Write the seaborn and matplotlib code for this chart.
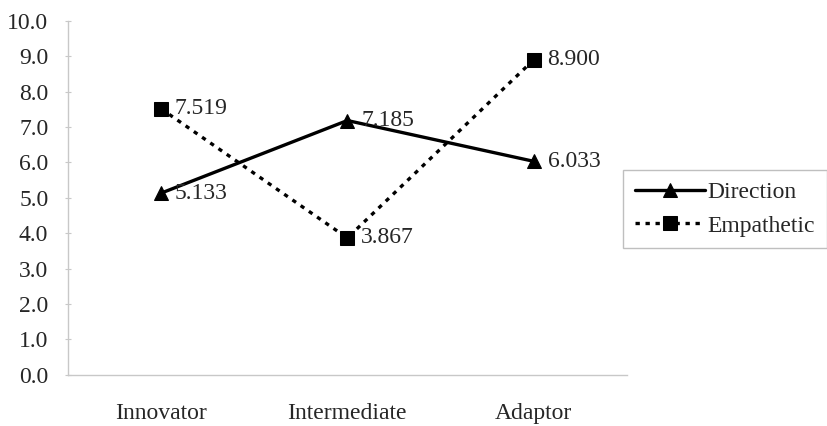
import seaborn as sns
import matplotlib.pyplot as plt
import pandas as pd

# chart values
groups = ['Innovator', 'Intermediate', 'Adaptor']
direction = [5.133, 7.185, 6.033]
empathetic = [7.519, 3.867, 8.900]
yticks = [0, 1, 2, 3, 4, 5, 6, 7, 8, 9, 10]

df = pd.DataFrame({'Group': groups * 2,
                   'Score': direction + empathetic,
                   'Measure': ['Direction'] * 3 + ['Empathetic'] * 3})

sns.set_style('white')
plt.rcParams['font.family'] = ['Liberation Serif', 'DejaVu Serif']

fig = plt.figure(figsize=(8.27, 4.26), dpi=100)
ax = fig.add_axes([0.082, 0.12, 0.676, 0.831])

sns.lineplot(data=df, x='Group', y='Score', hue='Measure', style='Measure',
             palette=['black', 'black'], markers={'Direction': '^', 'Empathetic': 's'},
             dashes={'Direction': '', 'Empathetic': (1.3, 1.7)},
             markersize=10, linewidth=2.4, markeredgecolor='black', ax=ax, sort=False)

# value labels
for m, vals in [('Direction', direction), ('Empathetic', empathetic)]:
    for i, v in enumerate(vals):
        ax.annotate(f'{v:.3f}', (i, v), xytext=(10, 0), textcoords='offset points',
                    va='center', ha='left', fontsize=17)

ax.set_xlim(-0.5, 2.5)
ax.set_ylim(0, 10)
ax.set_yticks(yticks)
ax.set_yticklabels([f'{t:.1f}' for t in yticks], fontsize=17)
ax.set_xticks([0, 1, 2])
ax.set_xticklabels(groups, fontsize=17)
ax.set_xticks([0.5, 1.5], minor=True)
ax.tick_params(axis='x', which='major', length=0, pad=20)
ax.tick_params(axis='x', which='minor', length=4, direction='in', color='#c8c8c8')
ax.tick_params(axis='y', length=4, direction='inout', color='#c8c8c8', left=True, pad=12)
ax.set_xlabel('')
ax.set_ylabel('')
for s in ['top', 'right']:
    ax.spines[s].set_visible(False)
for s in ['left', 'bottom']:
    ax.spines[s].set_color('#c8c8c8')
    ax.spines[s].set_linewidth(1)

leg = ax.legend(loc='upper left', bbox_to_anchor=(0.753, 0.601), bbox_transform=fig.transFigure,
                fontsize=17, frameon=True, fancybox=False, handlelength=3.0,
                handletextpad=0.1, borderpad=0.5, labelspacing=0.5, borderaxespad=0)
leg.get_frame().set_edgecolor('#b0b0b0')
leg.get_frame().set_linewidth(1)

fig.savefig('out.png', dpi=100)
